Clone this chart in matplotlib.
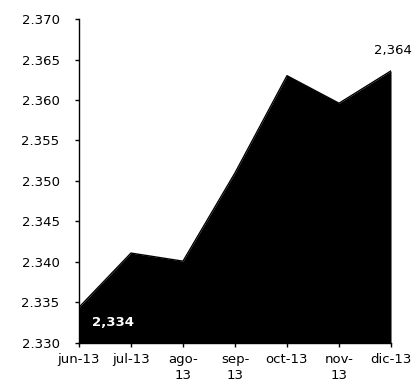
import matplotlib
matplotlib.use('Agg')
import matplotlib.pyplot as plt
from matplotlib.ticker import FuncFormatter

months = ['jun-13', 'jul-13', 'ago-\n13', 'sep-\n13', 'oct-13', 'nov-\n13', 'dic-13']
values = [2334.4, 2341.1, 2340.1, 2351.0, 2363.0, 2359.6, 2363.6]
y_ticks = [2330, 2335, 2340, 2345, 2350, 2355, 2360, 2365, 2370]

plt.rcParams['font.family'] = ['DejaVu Sans']

fig = plt.figure(figsize=(4.2, 3.91), dpi=100)
ax = fig.add_axes([0.188, 0.1228, 0.743, 0.8286])

x = list(range(len(months)))
ax.fill_between(x, values, 2330, color='black', linewidth=0)
ax.plot(x, values, color='black', linewidth=1)

ax.set_xlim(0, len(months) - 1)
ax.set_ylim(2330, 2370)
ax.set_yticks(y_ticks)
ax.yaxis.set_major_formatter(FuncFormatter(lambda v, p: '{:,.0f}'.format(v).replace(',', '.')))
ax.set_xticks(x)
ax.set_xticklabels(months, fontsize=9.5, linespacing=1.3)
ax.tick_params(axis='y', labelsize=9.5, length=3, width=1, pad=11)
ax.tick_params(axis='x', length=3, width=1, pad=4)

for s in ['top', 'right']:
    ax.spines[s].set_visible(False)
for s in ['left', 'bottom']:
    ax.spines[s].set_linewidth(1)

# etiquetas de datos (primero y ultimo)
ax.annotate('{:,.0f}'.format(values[0]), (x[0], values[0]), xytext=(34, -15),
            textcoords='offset pixels', ha='center', va='center',
            color='white', fontsize=9.5, fontweight='bold')
ax.annotate('{:,.0f}'.format(values[-1]), (x[-1], values[-1]), xytext=(2, 20),
            textcoords='offset pixels', ha='center', va='center',
            color='black', fontsize=9.5, annotation_clip=False)

fig.savefig('out.png', dpi=100)
